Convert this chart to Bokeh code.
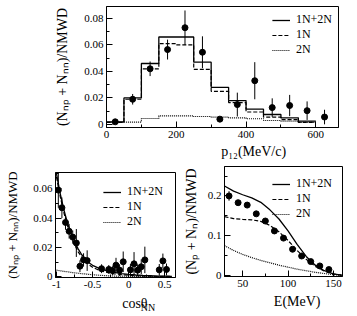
from bokeh.plotting import figure
from bokeh.models import (Legend, LegendItem, Range1d, Label, FixedTicker,
                          CustomJSTickFormatter)
from bokeh.layouts import column, row
from bokeh.embed import file_html
from bokeh.resources import INLINE

FONT = "Liberation Serif"

# ---------------- top panel: p12 distribution ----------------
p12_edges = [0, 50, 100, 150, 200, 250, 300, 350, 400, 450, 500, 550, 600]
p12_total = [0.002, 0.020, 0.046, 0.066, 0.066, 0.047, 0.028, 0.018, 0.0115, 0.0075, 0.005, 0.0025]
p12_1n = [0.0015, 0.019, 0.042, 0.061, 0.060, 0.0415, 0.025, 0.0165, 0.0094, 0.0056, 0.0036, 0.0015]
p12_2n = [0.0015, 0.0018, 0.0045, 0.0065, 0.0065, 0.006, 0.0055, 0.005, 0.0043, 0.003, 0.0025, 0.0015]
p12_pts = [25, 75, 125, 175, 225, 275, 325, 375, 425, 475, 525, 575, 625]
p12_val = [0.002, 0.019, 0.042, 0.0565, 0.073, 0.0545, 0.004, 0.015, 0.033, 0.0127, 0.0143, 0.0104, 0.0056]
p12_err = [0.0008, 0.004, 0.0055, 0.0075, 0.013, 0.012, 0.0015, 0.009, 0.014, 0.007, 0.008, 0.007, 0.0055]
p12_xticks = [0, 200, 400, 600]
p12_xminor = [100, 300, 500]
p12_yticks = [0, 0.02, 0.04, 0.06, 0.08]
p12_yminor = [0.01, 0.03, 0.05, 0.07]

# ---------------- bottom-left: cos(theta_NN) ----------------
cos_curve_x = [-1.0, -0.95, -0.9, -0.85, -0.8, -0.75, -0.7, -0.65, -0.6, -0.55, -0.5,
               -0.4, -0.3, -0.2, -0.1, 0.0, 0.1, 0.2, 0.3, 0.4, 0.5, 0.6]
cos_total = [0.070, 0.057, 0.046, 0.037, 0.030, 0.024, 0.019, 0.015, 0.012, 0.0095, 0.0078,
             0.0055, 0.0040, 0.0030, 0.0022, 0.0016, 0.0012, 0.0009, 0.0007, 0.0005, 0.0004, 0.0003]
cos_1n = [0.068, 0.055, 0.044, 0.035, 0.028, 0.022, 0.017, 0.0135, 0.0105, 0.0082, 0.0065,
          0.0042, 0.0030, 0.0020, 0.0015, 0.0010, 0.0007, 0.0005, 0.0004, 0.0003, 0.0002, 0.0002]
cos_2n = [0.0045, 0.0041, 0.0037, 0.0034, 0.0030, 0.0027, 0.0024, 0.0021, 0.0019, 0.0016, 0.0014,
          0.0010, 0.0007, 0.0005, 0.0004, 0.0003, 0.0002, 0.0002, 0.0001, 0.0001, 0.0001, 0.0001]
cos_pts = [-0.975, -0.925, -0.875, -0.825, -0.775, -0.725, -0.675, -0.625, -0.575,
           -0.375, -0.275, -0.225, -0.175, -0.125, -0.075, 0.025, 0.075, 0.125, 0.175, 0.225,
           0.425, 0.475, 0.525]
cos_val = [0.059, 0.047, 0.037, 0.031, 0.027, 0.023, 0.0072, 0.0115, 0.011,
           0.0055, 0.005, 0.0042, 0.0079, 0.0045, 0.0102, 0.0047, 0.0088, 0.0045, 0.0068, 0.0115,
           0.0047, 0.0108, 0.005]
cos_err = [0.012, 0.007, 0.005, 0.005, 0.0045, 0.0095, 0.004, 0.0045, 0.007,
           0.003, 0.003, 0.003, 0.005, 0.004, 0.007, 0.004, 0.008, 0.004, 0.005, 0.009,
           0.004, 0.005, 0.004]
cos_xticks = [-1, -0.5, 0, 0.5]
cos_xminor = [-0.75, -0.25, 0.25]
cos_yticks = [0, 0.02, 0.04, 0.06]
cos_yminor = [0.01, 0.03, 0.05, 0.07]

# ---------------- bottom-right: E spectrum ----------------
e_curve_x = [30, 40, 50, 60, 70, 80, 90, 100, 110, 120, 130, 140, 150, 160]
e_total = [0.225, 0.212, 0.203, 0.195, 0.184, 0.165, 0.142, 0.112, 0.078, 0.048, 0.026, 0.012, 0.004, 0.0005]
e_1n = [0.148, 0.143, 0.141, 0.140, 0.136, 0.126, 0.110, 0.088, 0.063, 0.041, 0.023, 0.011, 0.004, 0.0005]
e_2n = [0.075, 0.063, 0.053, 0.045, 0.038, 0.032, 0.026, 0.021, 0.016, 0.012, 0.008, 0.005, 0.002, 0.0005]
e_pts = [35, 45, 55, 65, 75, 85, 95, 105, 115, 125, 135, 145]
e_val = [0.200, 0.183, 0.177, 0.155, 0.137, 0.112, 0.094, 0.066, 0.049, 0.035, 0.024, 0.015]
e_err = [0.012, 0.006, 0.006, 0.006, 0.005, 0.005, 0.005, 0.004, 0.004, 0.003, 0.003, 0.003]
e_xticks = [50, 100, 150]
e_xminor = [75, 125]
e_yticks = [0, 0.1, 0.2]
e_yminor = [0.05, 0.15, 0.25]

legend_labels = ["1N+2N", "1N", "2N"]

FMT = CustomJSTickFormatter(code="""
if (Math.abs(tick) < 1e-9) { return "0"; }
return String(parseFloat(tick.toFixed(4)));
""")


def make_fig(width, height, xr, yr, borders, xticks, xminor, yticks, yminor):
    bl, br, bt, bb = borders
    p = figure(width=width, height=height, x_range=Range1d(*xr), y_range=Range1d(*yr),
               output_backend="svg", toolbar_location=None,
               min_border_left=bl, min_border_right=br, min_border_top=bt,
               min_border_bottom=bb)
    p.grid.visible = False
    p.outline_line_color = "black"
    p.outline_line_width = 1
    p.background_fill_color = "white"
    p.border_fill_color = "white"
    p.xaxis.ticker = FixedTicker(ticks=xticks, minor_ticks=xminor)
    p.yaxis.ticker = FixedTicker(ticks=yticks, minor_ticks=yminor)
    for ax in (p.xaxis[0], p.yaxis[0]):
        ax.formatter = FMT
        ax.major_tick_in = 6
        ax.major_tick_out = 0
        ax.minor_tick_in = 3
        ax.minor_tick_out = 0
        ax.axis_line_color = "black"
        ax.major_tick_line_color = "black"
        ax.minor_tick_line_color = "black"
        ax.major_label_text_font = FONT
        ax.major_label_text_font_size = "11px"
        ax.major_label_text_color = "black"
        ax.major_label_standoff = 3
        ax.axis_label_text_font = FONT
        ax.axis_label_text_font_size = "14px"
        ax.axis_label_text_font_style = "normal"
        ax.axis_label_text_color = "black"
        ax.axis_label_standoff = 4
    return p


def make_strip(width, height):
    s = figure(width=width, height=height, x_range=Range1d(0, width), y_range=Range1d(0, height),
               output_backend="svg", toolbar_location=None, x_axis_type=None, y_axis_type=None,
               min_border_left=0, min_border_right=0, min_border_top=0, min_border_bottom=0)
    s.grid.visible = False
    s.outline_line_color = None
    s.background_fill_color = "white"
    s.border_fill_color = "white"
    return s


def strip_text(s, x, y, text, size="14px", align="center"):
    s.add_layout(Label(x=x, y=y, text=text, text_font=FONT, text_font_size=size,
                       text_baseline="middle", text_align=align, text_color="black"))


def add_legend(p, renderers, margin):
    items = [LegendItem(label=lab, renderers=[r]) for lab, r in zip(legend_labels, renderers)]
    lg = Legend(items=items, location="top_right",
                label_text_font=FONT, label_text_font_size="12px",
                label_text_color="black",
                background_fill_alpha=0, border_line_alpha=0,
                glyph_width=18, glyph_height=10, label_height=10,
                spacing=0, padding=2, margin=margin, label_standoff=6)
    p.add_layout(lg)


def add_points(p, xs, ys, es):
    p.segment(x0=xs, y0=[y - e for y, e in zip(ys, es)], x1=xs,
              y1=[y + e for y, e in zip(ys, es)], line_color="black", line_width=1)
    p.scatter(xs, ys, size=6, marker="circle", fill_color="black", line_color="black")


# ---- top figure (page origin at 0,0) ----
top = make_fig(350, 143, (0, 665), (-0.0023, 0.089), (106, 12, 6, 16),
               p12_xticks, p12_xminor, p12_yticks, p12_yminor)
top.yaxis.axis_label = "(Nₙₚ + Nₙₙ)/NMWD"
top.yaxis.axis_label_standoff = 11
r1 = top.step(x=p12_edges, y=p12_total + [p12_total[-1]], mode="after",
              line_color="black", line_width=1.3)
r2 = top.step(x=p12_edges, y=p12_1n + [p12_1n[-1]], mode="after",
              line_color="black", line_width=1.2, line_dash="4 2")
r3 = top.step(x=p12_edges, y=p12_2n + [p12_2n[-1]], mode="after",
              line_color="black", line_width=1.2, line_dash="1 1")
add_points(top, p12_pts, p12_val, p12_err)
add_legend(top, [r1, r2, r3], 4)
top_strip = make_strip(350, 22)
strip_text(top_strip, 222, 14, "p₁₂(MeV/c)")

# ---- bottom-left figure ----
bl = make_fig(180, 127, (-1.014, 0.65), (-0.0005, 0.071), (55, 5, 7, 15),
              cos_xticks, cos_xminor, cos_yticks, cos_yminor)
bl.yaxis.axis_label = "(Nₙₚ + Nₙₙ)/NMWD"
bl.yaxis.axis_label_text_font_size = "13px"
bl.yaxis.axis_label_standoff = 10
c1 = bl.line(cos_curve_x, cos_total, line_color="black", line_width=1.3)
c2 = bl.line(cos_curve_x, cos_1n, line_color="black", line_width=1.2, line_dash="4 2")
c3 = bl.line(cos_curve_x, cos_2n, line_color="black", line_width=1.2, line_dash="1 1")
add_points(bl, cos_pts, cos_val, cos_err)
add_legend(bl, [c1, c2, c3], 10)
bl_strip = make_strip(180, 23)
strip_text(bl_strip, 100, 12, "cosθ", align="left")
strip_text(bl_strip, 128, 8, "NN", size="10px", align="left")

# ---- bottom-right figure ----
br = make_fig(177, 127, (30, 160), (-0.0025, 0.274), (41, 15, 1, 16),
              e_xticks, e_xminor, e_yticks, e_yminor)
br.yaxis.axis_label = "(Nₚ + Nₙ)/NMWD"
br.yaxis.axis_label_standoff = 6
e1 = br.line(e_curve_x, e_total, line_color="black", line_width=1.3)
e2 = br.line(e_curve_x, e_1n, line_color="black", line_width=1.2, line_dash="4 2")
e3 = br.line(e_curve_x, e_2n, line_color="black", line_width=1.2, line_dash="1 1")
add_points(br, e_pts, e_val, e_err)
add_legend(br, [e1, e2, e3], 8)
br_strip = make_strip(177, 23)
strip_text(br_strip, 109, 14, "E(MeV)")

layout = column(top, top_strip, row(column(bl, bl_strip), column(br, br_strip)))
open("out.html", "w").write(file_html(layout, INLINE))
